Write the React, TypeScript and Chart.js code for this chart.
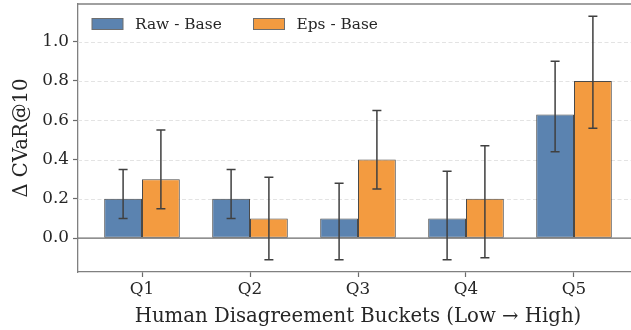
import React, { useEffect, useRef } from "react";
import { Chart, registerables } from "chart.js";

Chart.register(...registerables);

const categories = ["Q1", "Q2", "Q3", "Q4", "Q5"];
const rawBase = [0.2, 0.2, 0.1, 0.1, 0.63];
const rawLow = [0.1, 0.1, -0.11, -0.11, 0.44];
const rawHigh = [0.35, 0.35, 0.28, 0.34, 0.9];
const epsBase = [0.3, 0.1, 0.4, 0.2, 0.8];
const epsLow = [0.15, -0.11, 0.25, -0.1, 0.56];
const epsHigh = [0.55, 0.31, 0.65, 0.47, 1.13];
const yTicks = [0, 0.2, 0.4, 0.6, 0.8, 1.0];

const SERIF = "'DejaVu Serif', serif";
const BLUE = "#5b83b0";
const ORANGE = "#f39b40";

const customPlugin = {
  id: "customDraw",
  beforeDatasetsDraw(chart: any) {
    const { ctx, chartArea, scales } = chart;
    const y = scales.y;
    ctx.save();
    ctx.strokeStyle = "#e3e3e3";
    ctx.lineWidth = 1;
    ctx.setLineDash([4, 2.5]);
    for (const t of yTicks) {
      if (t === 0) continue;
      const py = Math.round(y.getPixelForValue(t)) + 0.5;
      ctx.beginPath();
      ctx.moveTo(chartArea.left, py);
      ctx.lineTo(chartArea.right, py);
      ctx.stroke();
    }
    ctx.restore();
  },
  afterDatasetsDraw(chart: any) {
    const { ctx, chartArea, scales } = chart;
    const y = scales.y;
    ctx.save();
    // zero line
    const z = y.getPixelForValue(0);
    ctx.strokeStyle = "#6b6b6b";
    ctx.lineWidth = 1.3;
    ctx.beginPath();
    ctx.moveTo(chartArea.left, z);
    ctx.lineTo(chartArea.right, z);
    ctx.stroke();
    // top spine
    ctx.strokeStyle = "#808080";
    ctx.lineWidth = 1.3;
    ctx.beginPath();
    ctx.moveTo(chartArea.left, chartArea.top);
    ctx.lineTo(chartArea.right, chartArea.top);
    ctx.stroke();
    // error bars
    ctx.strokeStyle = "#404040";
    ctx.lineWidth = 1.5;
    chart.data.datasets.forEach((ds: any, di: number) => {
      const meta = chart.getDatasetMeta(di);
      meta.data.forEach((el: any, i: number) => {
        const x = el.x;
        const lo = y.getPixelForValue(ds.errLow[i]);
        const hi = y.getPixelForValue(ds.errHigh[i]);
        ctx.beginPath();
        ctx.moveTo(x, lo);
        ctx.lineTo(x, hi);
        ctx.moveTo(x - 4.5, lo);
        ctx.lineTo(x + 4.5, lo);
        ctx.moveTo(x - 4.5, hi);
        ctx.lineTo(x + 4.5, hi);
        ctx.stroke();
      });
    });
    // legend
    const legendX = [92, 253.5];
    ctx.font = `15.4px ${SERIF}`;
    ctx.textBaseline = "middle";
    ctx.textAlign = "left";
    chart.data.datasets.forEach((ds: any, di: number) => {
      const lx = legendX[di];
      ctx.fillStyle = ds.backgroundColor;
      ctx.fillRect(lx, 18.5, 31, 11);
      ctx.strokeStyle = "#6e6e6e";
      ctx.lineWidth = 1;
      ctx.strokeRect(lx, 18.5, 31, 11);
      ctx.fillStyle = "#262626";
      ctx.fillText(ds.label, lx + 43, 24.5);
    });
    ctx.restore();
  },
};

export default function App() {
  const ref = useRef<HTMLCanvasElement | null>(null);
  useEffect(() => {
    if (!ref.current) return;
    const chart = new Chart(ref.current, {
      type: "bar",
      data: {
        datasets: [
          {
            label: "Raw - Base",
            data: rawBase.map((v, i) => ({ x: i, y: v })),
            backgroundColor: BLUE,
            borderColor: "#4a4a4a",
            borderWidth: 1,
            borderSkipped: false,
            errLow: rawLow,
            errHigh: rawHigh,
          } as any,
          {
            label: "Eps - Base",
            data: epsBase.map((v, i) => ({ x: i, y: v })),
            backgroundColor: ORANGE,
            borderColor: "#4a4a4a",
            borderWidth: 1,
            borderSkipped: false,
            errLow: epsLow,
            errHigh: epsHigh,
          } as any,
        ],
      },
      options: {
        animation: false,
        responsive: false,
        maintainAspectRatio: false,
        events: [],
        layout: { padding: { left: 0, top: 4, right: 2, bottom: 0 } },
        datasets: { bar: { categoryPercentage: 0.7, barPercentage: 1.0 } },
        plugins: { legend: { display: false }, tooltip: { enabled: false } },
        scales: {
          x: {
            type: "linear",
            min: -0.5926,
            max: 4.5926,
            offset: false,
            afterBuildTicks: (scale: any) => {
              scale.ticks = categories.map((_, i) => ({ value: i }));
            },
            afterFit: (scale: any) => {
              scale.height = 58;
              scale.paddingLeft = 0;
              scale.paddingRight = 0;
            },
            ticks: {
              autoSkip: false,
              maxRotation: 0,
              font: { family: SERIF, size: 16.8 },
              color: "#262626",
              padding: 3,
              callback: (v: any) => categories[v] ?? "",
            },
            grid: {
              offset: false,
              drawOnChartArea: false,
              drawTicks: true,
              tickLength: 5,
              tickColor: "#6b6b6b",
              tickWidth: 1.2,
            },
            border: { display: true, color: "#808080", width: 1.3 },
            title: {
              display: true,
              text: "Human Disagreement Buckets (Low → High)",
              font: { family: SERIF, size: 19.7 },
              color: "#262626",
              padding: { top: 0, bottom: 1 },
            },
          },
          y: {
            type: "linear",
            min: -0.1724,
            max: 1.192,
            afterBuildTicks: (scale: any) => {
              scale.ticks = yTicks.map((v) => ({ value: v }));
            },
            afterFit: (scale: any) => {
              scale.width = 78;
              scale.paddingTop = 0;
              scale.paddingBottom = 0;
            },
            ticks: {
              font: { family: SERIF, size: 16.8 },
              color: "#262626",
              padding: 4,
              callback: (v: any) => Number(v).toFixed(1),
            },
            grid: {
              drawOnChartArea: false,
              drawTicks: true,
              tickLength: 5,
              tickColor: "#6b6b6b",
              tickWidth: 1.2,
            },
            border: { display: true, color: "#808080", width: 1.3 },
            title: {
              display: true,
              text: "Δ CVaR@10",
              font: { family: SERIF, size: 19.7 },
              color: "#262626",
              padding: { top: 10, bottom: 0 },
            },
          },
        },
      } as any,
      plugins: [customPlugin as any],
    });
    return () => chart.destroy();
  }, []);
  return (
    <div
      style={{
        position: "fixed",
        left: 0,
        top: 0,
        width: 631,
        height: 330,
        overflow: "hidden",
        background: "#fff",
      }}
    >
      <canvas
        ref={ref}
        width={640}
        height={330}
        style={{ width: 640, height: 330, display: "block" }}
      />
    </div>
  );
}
